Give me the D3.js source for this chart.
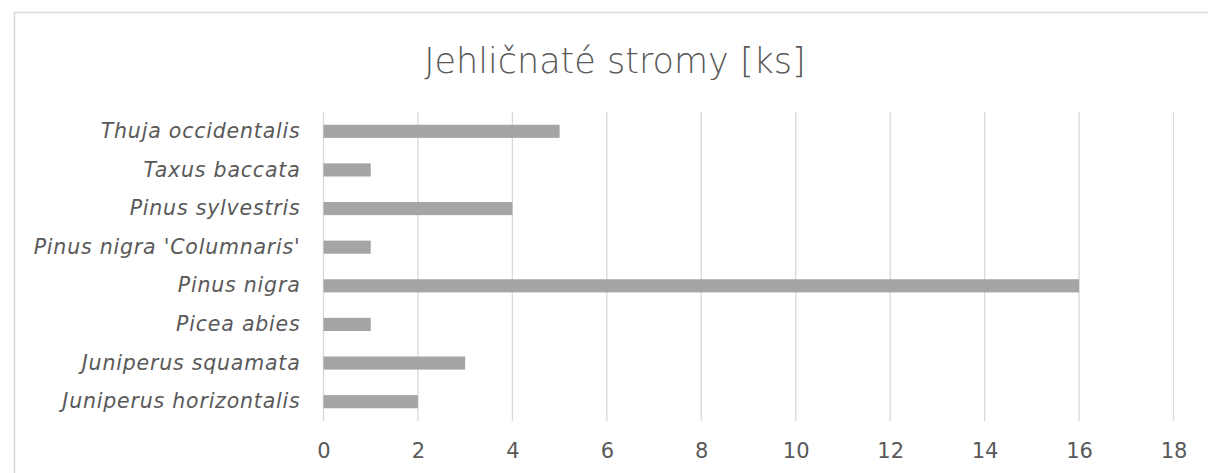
<!DOCTYPE html>
<html lang="cs">
<head>
<meta charset="utf-8" />
<title>Jehličnaté stromy [ks]</title>
<style>
html, body {
  margin: 0px;
  padding: 0px;
  background: #fff;
}
svg text {
  font-family: "DejaVu Sans", sans-serif;
  fill: #595959;
}
</style>
</head>
<body>
<svg id="chart" width="1208" height="473"></svg>

<script src="https://cdn.jsdelivr.net/npm/d3@7/dist/d3.min.js"></script>
<script>

var title = "Jehličnaté stromy [ks]";

// od shora dolu, jako v grafu
var species = [
  "Thuja occidentalis",
  "Taxus baccata",
  "Pinus sylvestris",
  "Pinus nigra 'Columnaris'",
  "Pinus nigra",
  "Picea abies",
  "Juniperus squamata",
  "Juniperus horizontalis"
];
var counts = [5, 1, 4, 1, 16, 1, 3, 2];
var tickValues = [0, 2, 4, 6, 8, 10, 12, 14, 16, 18];

var svg = d3.select("#chart");

// ramecek grafu (vpravo a dole presahuje)
svg.append("rect")
  .attr("x", 14.5)
  .attr("y", 12.5)
  .attr("width", 1210)
  .attr("height", 480)
  .attr("fill", "none")
  .attr("stroke", "#d9d9d9")
  .attr("stroke-width", 1.5);

var plotLeft = 323.5, plotRight = 1173.5, plotTop = 112, plotBottom = 421;

var x = d3.scaleLinear()
  .domain([0, 18])
  .range([plotLeft, plotRight]);

var y = d3.scaleBand()
  .domain(species)
  .range([plotTop, plotBottom])
  .paddingInner(0.66)
  .paddingOuter(0.33);

// mrizka
svg.append("g")
  .selectAll("line")
  .data(tickValues)
  .enter()
  .append("line")
  .attr("x1", function(d) { return x(d); })
  .attr("x2", function(d) { return x(d); })
  .attr("y1", plotTop)
  .attr("y2", plotBottom)
  .attr("stroke", "#d9d9d9")
  .attr("stroke-width", 1.3);

// osa x - jen popisky
var xAxis = svg.append("g")
  .attr("transform", "translate(0," + plotBottom + ")")
  .call(d3.axisBottom(x).tickValues(tickValues).tickSize(0).tickPadding(22));
xAxis.select(".domain").remove();
xAxis.selectAll("text")
  .attr("font-size", 21)
  .attr("font-family", "DejaVu Sans")
  .attr("fill", "#595959");

// osa y - nazvy druhu kurzivou
var yAxis = svg.append("g")
  .attr("transform", "translate(" + plotLeft + ",0)")
  .call(d3.axisLeft(y).tickSize(0).tickPadding(23));
yAxis.select(".domain").remove();
yAxis.selectAll("text")
  .attr("font-size", 20.5)
  .attr("letter-spacing", 0.8)
  .attr("font-style", "italic")
  .attr("font-family", "DejaVu Sans")
  .attr("fill", "#595959");

// sloupce
svg.append("g")
  .selectAll("rect")
  .data(species)
  .enter()
  .append("rect")
  .attr("x", x(0))
  .attr("y", function(d) { return y(d); })
  .attr("width", function(d, i) { return x(counts[i]) - x(0); })
  .attr("height", y.bandwidth())
  .attr("fill", "#a5a5a5");

// titulek
svg.append("text")
  .attr("x", 615)
  .attr("y", 73)
  .attr("text-anchor", "middle")
  .attr("font-size", 35)
  .attr("font-weight", 300)
  .text(title);

</script>
</body>
</html>
